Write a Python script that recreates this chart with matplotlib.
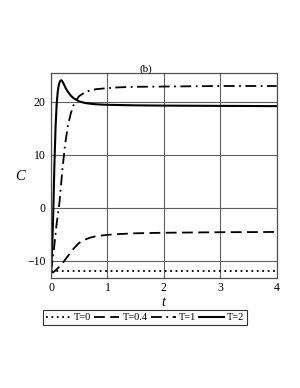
import matplotlib
matplotlib.use("Agg")
import matplotlib.pyplot as plt

# =========================
# DATA
# =========================

t_T0 = [0, 4]
C_T0 = [-12, -12]

t_T04 = [0, 0.03, 0.06, 0.1, 0.15, 0.2, 0.25, 0.3, 0.4, 0.5, 0.6, 0.7, 0.8,
         1.0, 1.2, 1.5, 2, 3, 4]
C_T04 = [-12, -12.2, -12.0, -11.6, -11.1, -10.5, -9.8, -9.1, -7.7, -6.6, -6.0,
         -5.6, -5.35, -5.1, -4.95, -4.8, -4.7, -4.6, -4.55]

t_T1 = [0, 0.05, 0.1, 0.15, 0.2, 0.25, 0.3, 0.35, 0.4, 0.45, 0.5, 0.6, 0.7,
        0.8, 1.0, 1.2, 1.5, 2, 3, 4]
C_T1 = [-12, -8, -3, 1, 7, 12, 15.5, 17.8, 19.4, 20.4, 21.1, 21.8, 22.2,
        22.4, 22.6, 22.75, 22.85, 22.9, 23.0, 23.0]

t_T2 = [0, 0.02, 0.04, 0.06, 0.08, 0.10, 0.12, 0.14, 0.16, 0.18, 0.20, 0.23,
        0.26, 0.30, 0.35, 0.40, 0.5, 0.6, 0.7, 0.8, 1.0, 1.5, 2, 3, 4]
C_T2 = [-12, -8, -1, 8, 15, 19.5, 22, 23.3, 23.9, 24.1, 23.9, 23.3,
        22.6, 21.9, 21.2, 20.7, 20.1, 19.8, 19.65, 19.55, 19.45, 19.35, 19.3,
        19.25, 19.2]

x_ticks = [0, 1, 2, 3, 4]
y_ticks = [-10, 0, 10, 20]
labels = ["T=0", "T=0.4", "T=1", "T=2"]

# =========================
# PLOT
# =========================

plt.rcParams["font.family"] = ["Liberation Serif", "DejaVu Serif"]

fig = plt.figure(figsize=(3.0, 3.88), dpi=100)
ax = fig.add_axes([0.17, 0.2827, 0.752, 0.5284])

ax.plot(t_T0, C_T0, color="black", lw=1.3, linestyle=(0, (1, 2.0)), label=labels[0])
ax.plot(t_T04, C_T04, color="black", lw=1.3, linestyle=(0, (6, 3)), label=labels[1])
ax.plot(t_T1, C_T1, color="black", lw=1.3, linestyle=(0, (6, 2.5, 1, 2.5)), label=labels[2])
ax.plot(t_T2, C_T2, color="black", lw=1.5, linestyle="-", label=labels[3])

ax.set_xlim(0, 4)
ax.set_ylim(-13.3, 25.4)
ax.set_xticks(x_ticks)
ax.set_yticks(y_ticks)
ax.set_yticklabels(["\u221210", "0", "10", "20"])
ax.tick_params(length=0, labelsize=8.5)
ax.tick_params(axis="x", pad=2.5)
ax.tick_params(axis="y", pad=4)
ax.grid(True, color="#606060", lw=0.8)
ax.set_axisbelow(True)
for sp in ax.spines.values():
    sp.set_color("#505050")
    sp.set_linewidth(0.9)

fig.text(20 / 300, 1 - 177 / 388, "C", fontsize=10.5, style="italic",
         ha="center", va="center")
fig.text(163 / 300, 1 - 302 / 388, "t", fontsize=10, style="italic",
         ha="center", va="center")
fig.text(146 / 300, 1 - 69 / 388, "(b)", fontsize=8, ha="center", va="center")

leg = fig.legend(loc="center", bbox_to_anchor=(0.484, 0.1817), ncol=4,
                 fontsize=7.5, frameon=True, fancybox=False, handlelength=2.4,
                 handletextpad=0.3, columnspacing=0.3, borderpad=0.25,
                 borderaxespad=0)
leg.get_frame().set_edgecolor("black")
leg.get_frame().set_linewidth(0.8)

plt.savefig("out.png", dpi=100)
plt.close()
